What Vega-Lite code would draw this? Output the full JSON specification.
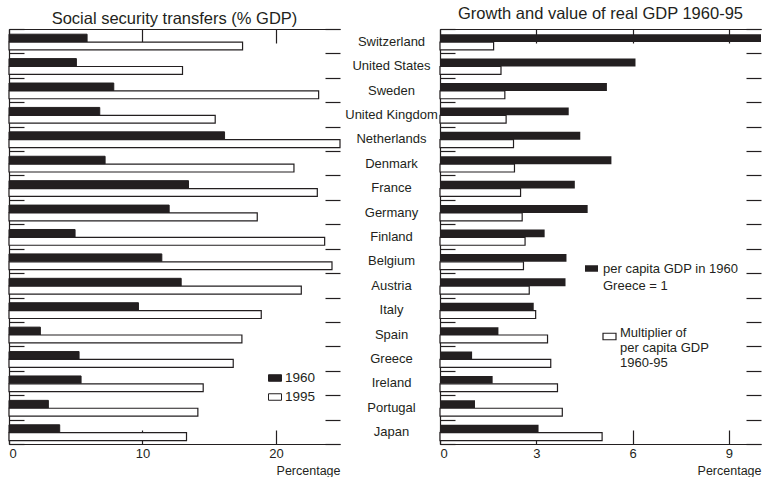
{
  "$schema": "https://vega.github.io/schema/vega-lite/v6.json",
  "padding": {"left": 8, "top": 5, "right": 0, "bottom": 0},
  "background": "white",
  "config": {
    "font": "Liberation Sans",
    "view": {"stroke": null},
    "axis": {"domainColor": "#231f20", "tickColor": "#231f20", "labelColor": "#231f20", "titleColor": "#231f20", "labelFont": "Liberation Sans", "titleFont": "Liberation Sans", "labelFontSize": 13, "titleFontSize": 12.5, "titleFontWeight": "normal", "grid": false, "domainWidth": 1.2, "tickWidth": 1.2},
    "title": {"font": "Liberation Sans", "fontSize": 16.5, "fontWeight": "normal", "color": "#231f20", "offset": 1},
    "legend": {"labelFont": "Liberation Sans", "labelColor": "#231f20", "labelFontSize": 13, "labelLimit": 400, "title": null}
  },
  "datasets": {
    "ss": [
      {"country": "Switzerland", "year": "1960", "value": 5.85}, {"country": "Switzerland", "year": "1995", "value": 17.5},
      {"country": "United States", "year": "1960", "value": 5.05}, {"country": "United States", "year": "1995", "value": 13.0},
      {"country": "Sweden", "year": "1960", "value": 7.85}, {"country": "Sweden", "year": "1995", "value": 23.2},
      {"country": "United Kingdom", "year": "1960", "value": 6.8}, {"country": "United Kingdom", "year": "1995", "value": 15.45},
      {"country": "Netherlands", "year": "1960", "value": 16.15}, {"country": "Netherlands", "year": "1995", "value": 24.8},
      {"country": "Denmark", "year": "1960", "value": 7.2}, {"country": "Denmark", "year": "1995", "value": 21.35},
      {"country": "France", "year": "1960", "value": 13.45}, {"country": "France", "year": "1995", "value": 23.1},
      {"country": "Germany", "year": "1960", "value": 12.0}, {"country": "Germany", "year": "1995", "value": 18.6},
      {"country": "Finland", "year": "1960", "value": 4.95}, {"country": "Finland", "year": "1995", "value": 23.65},
      {"country": "Belgium", "year": "1960", "value": 11.45}, {"country": "Belgium", "year": "1995", "value": 24.2},
      {"country": "Austria", "year": "1960", "value": 12.9}, {"country": "Austria", "year": "1995", "value": 21.9},
      {"country": "Italy", "year": "1960", "value": 9.7}, {"country": "Italy", "year": "1995", "value": 18.9},
      {"country": "Spain", "year": "1960", "value": 2.35}, {"country": "Spain", "year": "1995", "value": 17.45},
      {"country": "Greece", "year": "1960", "value": 5.25}, {"country": "Greece", "year": "1995", "value": 16.8},
      {"country": "Ireland", "year": "1960", "value": 5.4}, {"country": "Ireland", "year": "1995", "value": 14.55},
      {"country": "Portugal", "year": "1960", "value": 2.95}, {"country": "Portugal", "year": "1995", "value": 14.15},
      {"country": "Japan", "year": "1960", "value": 3.8}, {"country": "Japan", "year": "1995", "value": 13.3}
    ],
    "gdp": [
      {"country": "Switzerland", "measure": "pc", "value": 10.0}, {"country": "Switzerland", "measure": "mult", "value": 1.67},
      {"country": "United States", "measure": "pc", "value": 6.09}, {"country": "United States", "measure": "mult", "value": 1.9},
      {"country": "Sweden", "measure": "pc", "value": 5.2}, {"country": "Sweden", "measure": "mult", "value": 2.02},
      {"country": "United Kingdom", "measure": "pc", "value": 4.01}, {"country": "United Kingdom", "measure": "mult", "value": 2.06},
      {"country": "Netherlands", "measure": "pc", "value": 4.37}, {"country": "Netherlands", "measure": "mult", "value": 2.29},
      {"country": "Denmark", "measure": "pc", "value": 5.34}, {"country": "Denmark", "measure": "mult", "value": 2.32},
      {"country": "France", "measure": "pc", "value": 4.2}, {"country": "France", "measure": "mult", "value": 2.51},
      {"country": "Germany", "measure": "pc", "value": 4.6}, {"country": "Germany", "measure": "mult", "value": 2.56},
      {"country": "Finland", "measure": "pc", "value": 3.26}, {"country": "Finland", "measure": "mult", "value": 2.65},
      {"country": "Belgium", "measure": "pc", "value": 3.94}, {"country": "Belgium", "measure": "mult", "value": 2.6},
      {"country": "Austria", "measure": "pc", "value": 3.91}, {"country": "Austria", "measure": "mult", "value": 2.78},
      {"country": "Italy", "measure": "pc", "value": 2.92}, {"country": "Italy", "measure": "mult", "value": 2.98},
      {"country": "Spain", "measure": "pc", "value": 1.82}, {"country": "Spain", "measure": "mult", "value": 3.35},
      {"country": "Greece", "measure": "pc", "value": 1.0}, {"country": "Greece", "measure": "mult", "value": 3.45},
      {"country": "Ireland", "measure": "pc", "value": 1.64}, {"country": "Ireland", "measure": "mult", "value": 3.66},
      {"country": "Portugal", "measure": "pc", "value": 1.09}, {"country": "Portugal", "measure": "mult", "value": 3.81},
      {"country": "Japan", "measure": "pc", "value": 3.07}, {"country": "Japan", "measure": "mult", "value": 5.05}
    ]
  },
  "spacing": 100,
  "bounds": "flush",
  "resolve": {"scale": {"fill": "independent", "stroke": "independent", "yOffset": "independent", "x": "independent", "y": "independent"}, "legend": {"fill": "independent", "stroke": "independent"}},
  "hconcat": [
    {
      "title": "Social security transfers (% GDP)",
      "width": 331,
      "height": 415,
      "data": {"name": "ss"},
      "layer": [
        {
          "transform": [{"filter": "datum.year == '1960'"}],
          "mark": {"type": "bar", "stroke": "#231f20", "strokeWidth": 1},
          "encoding": {
            "y": {"field": "country", "type": "nominal", "sort": ["Switzerland", "United States", "Sweden", "United Kingdom", "Netherlands", "Denmark", "France", "Germany", "Finland", "Belgium", "Austria", "Italy", "Spain", "Greece", "Ireland", "Portugal", "Japan"], "scale": {"paddingInner": 0, "paddingOuter": 0}, "axis": {"orient": "left", "labels": false, "title": null, "tickBand": "extent", "tickSize": -15, "domain": true}},
            "yOffset": {"field": "year", "type": "nominal", "scale": {"domain": ["1960", "1995"], "paddingInner": 0, "paddingOuter": 0.55, "align": 0.6}},
            "x": {"field": "value", "type": "quantitative", "scale": {"domain": [0, 24.8], "nice": false}, "axis": {"orient": "bottom", "values": [0, 10, 20], "tickSize": -14, "labelPadding": 17, "title": "Percentage", "titleAnchor": "end", "titlePadding": 4}},
            "fill": {"field": "year", "type": "nominal", "scale": {"domain": ["1960", "1995"], "range": ["#231f20", "white"]}, "legend": {"orient": "none", "legendX": 259, "legendY": 342, "symbolType": "M-1,-0.5H1V0.5H-1Z", "symbolSize": 169, "symbolStrokeColor": "#231f20", "symbolStrokeWidth": 1, "labelFontSize": 13.5, "rowPadding": 5, "labelOffset": 3}}
          }
        },
        {
          "transform": [{"filter": "datum.year == '1995'"}],
          "mark": {"type": "bar", "stroke": "#231f20", "strokeWidth": 1.2},
          "encoding": {
            "y": {"field": "country", "type": "nominal", "sort": ["Switzerland", "United States", "Sweden", "United Kingdom", "Netherlands", "Denmark", "France", "Germany", "Finland", "Belgium", "Austria", "Italy", "Spain", "Greece", "Ireland", "Portugal", "Japan"], "axis": {"orient": "right", "labels": false, "title": null, "tickBand": "extent", "tickSize": -15, "domain": false}},
            "yOffset": {"field": "year", "type": "nominal"},
            "x": {"field": "value", "type": "quantitative", "axis": {"orient": "top", "values": [0, 10, 20], "tickSize": -14, "labels": false, "title": null}},
            "fill": {"field": "year", "type": "nominal"}
          }
        }
      ],
      "resolve": {"axis": {"x": "independent", "y": "independent"}}
    },
    {
      "title": "Growth and value of real GDP 1960-95",
      "width": 321,
      "height": 415,
      "data": {"name": "gdp"},
      "layer": [
        {
          "transform": [{"filter": "datum.measure == 'pc'"}],
          "mark": {"type": "bar", "color": "#231f20"},
          "encoding": {
            "y": {"field": "country", "type": "nominal", "sort": ["Switzerland", "United States", "Sweden", "United Kingdom", "Netherlands", "Denmark", "France", "Germany", "Finland", "Belgium", "Austria", "Italy", "Spain", "Greece", "Ireland", "Portugal", "Japan"], "scale": {"paddingInner": 0, "paddingOuter": 0}, "axis": {"orient": "left", "labels": true, "labelAlign": "center", "labelPadding": 64, "title": null, "tickBand": "extent", "tickSize": -15, "domain": true}},
            "yOffset": {"field": "measure", "type": "nominal", "scale": {"domain": ["pc", "mult"], "paddingInner": 0, "paddingOuter": 0.55, "align": 0.6}},
            "x": {"field": "value", "type": "quantitative", "scale": {"domain": [0, 10], "nice": false}, "axis": {"orient": "bottom", "values": [0, 3, 6, 9], "tickSize": -14, "labelPadding": 17, "title": "Percentage", "titleAnchor": "end", "titlePadding": 4}},
            "fill": {"field": "measure", "type": "nominal", "scale": {"domain": ["pc"], "range": ["#231f20"]}, "legend": {"orient": "none", "legendX": 145, "legendY": 233, "symbolType": "M-1,-0.5H1V0.5H-1Z", "symbolSize": 169, "symbolStrokeWidth": 0, "labelOffset": 5, "labelExpr": "['per capita GDP in 1960', 'Greece = 1']", "labelBaseline": "top", "encode": {"labels": {"update": {"lineHeight": {"value": 17}, "dy": {"value": -6}}}}}}
          }
        },
        {
          "transform": [{"filter": "datum.measure == 'mult'"}],
          "mark": {"type": "bar", "fill": "white", "strokeWidth": 1.2},
          "encoding": {
            "y": {"field": "country", "type": "nominal", "sort": ["Switzerland", "United States", "Sweden", "United Kingdom", "Netherlands", "Denmark", "France", "Germany", "Finland", "Belgium", "Austria", "Italy", "Spain", "Greece", "Ireland", "Portugal", "Japan"], "axis": {"orient": "right", "labels": false, "title": null, "tickBand": "extent", "tickSize": -15, "domain": false}},
            "yOffset": {"field": "measure", "type": "nominal"},
            "x": {"field": "value", "type": "quantitative", "axis": {"orient": "top", "values": [0, 3, 6, 9], "tickSize": -14, "labels": false, "title": null}},
            "stroke": {"field": "measure", "type": "nominal", "scale": {"domain": ["mult"], "range": ["#231f20"]}, "legend": {"orient": "none", "legendX": 162, "legendY": 300, "symbolType": "M-1,-0.5H1V0.5H-1Z", "symbolSize": 169, "symbolFillColor": "white", "symbolStrokeWidth": 1.2, "labelOffset": 3, "labelExpr": "['Multiplier of', 'per capita GDP', '1960-95']", "labelBaseline": "alphabetic", "encode": {"labels": {"update": {"lineHeight": {"value": 17}, "dy": {"value": 7}}}}}}
          }
        }
      ],
      "resolve": {"axis": {"x": "independent", "y": "independent"}}
    }
  ]
}
